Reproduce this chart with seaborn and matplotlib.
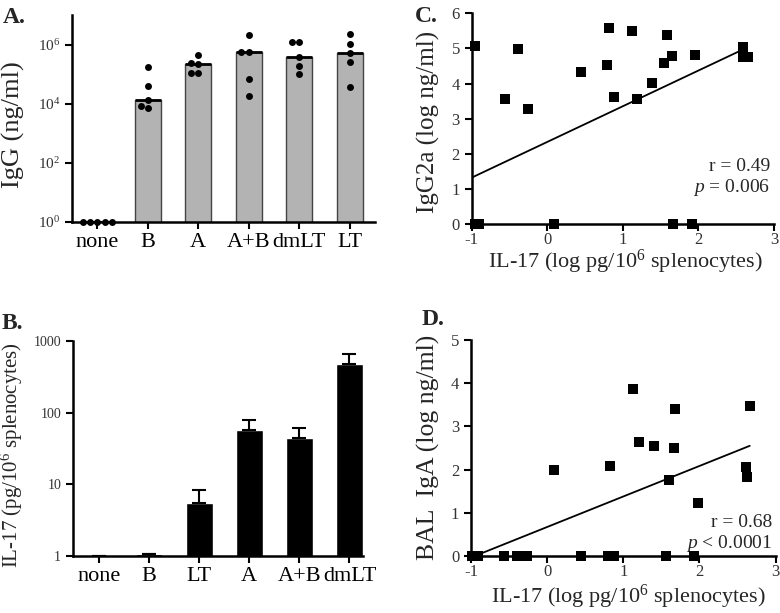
import numpy as np
import pandas as pd
import matplotlib
matplotlib.use('Agg')
import matplotlib.pyplot as plt
import seaborn as sns

# --- Panel A: serum IgG (ng/ml), 5 mice per group, bar = median ---
a_groups = ['none', 'B', 'A', 'A+B', 'dmLT', 'LT']
a_none = [1, 1, 1, 1, 1]
a_b = [1.74e5, 4.1e4, 1.3e4, 8.7e3, 7.1e3]
a_a = [2.45e5, 2.2e5, 4.4e5, 1.1e5, 1.1e5]
a_ab = [2.1e6, 5.5e5, 5.5e5, 6.9e4, 1.8e4]
a_dm = [1.26e6, 1.26e6, 3.9e5, 1.9e5, 9.8e4]
a_lt = [2.3e6, 1.07e6, 5.0e5, 2.5e5, 3.7e4]

# --- Panel B: IL-17 (pg/10^6 splenocytes), mean and upper error ---
b_groups = ['none', 'B', 'LT', 'A', 'A+B', 'dmLT']
b_mean = [1.0, 1.05, 5.5, 57, 44.6, 473]
b_upper = [1.0, 1.05, 8.3, 78.5, 62, 667]

# --- Panel C: IgG2a vs IL-17 (log scale values) ---
c_x = [-0.96, -0.39, -0.56, -0.26, 0.44, 0.79, 0.82, 0.88, 1.12, 1.19, 1.39,
       1.55, 1.59, 1.65, 1.96, 2.59, 2.59, 2.66,
       -0.96, -0.90, 0.09, 1.67, 1.92]
c_y = [5.07, 4.98, 3.56, 3.28, 4.32, 4.52, 5.58, 3.61, 5.50, 3.55, 4.01,
       4.59, 5.37, 4.77, 4.81, 5.03, 4.75, 4.75,
       0, 0, 0, 0, 0]
c_fit_x = [-1.0, 2.60]
c_fit_y = [1.32, 4.98]

# --- Panel D: BAL IgA vs IL-17 ---
d_x = [1.13, 1.68, 2.67, 1.20, 1.40, 1.66, 0.09, 0.82, 1.60, 2.61, 2.62, 1.98,
       -0.99, -0.95, -0.91, -0.57, -0.40, -0.26, 0.44, 0.80, 0.88, 1.56, 1.93]
d_y = [3.87, 3.41, 3.48, 2.63, 2.55, 2.50, 2.00, 2.08, 1.77, 2.05, 1.83, 1.23,
       0, 0, 0, 0, 0, 0, 0, 0, 0, 0, 0]
d_fit_x = [-0.95, 2.66]
d_fit_y = [0.0, 2.55]

sns.set_style('ticks')
plt.rcParams['font.family'] = ['Liberation Serif', 'DejaVu Serif']
plt.rcParams['mathtext.fontset'] = 'custom'
plt.rcParams['mathtext.rm'] = 'Liberation Serif'
plt.rcParams['mathtext.it'] = 'Liberation Serif:italic'
plt.rcParams['mathtext.bf'] = 'Liberation Serif:bold'
plt.rcParams['axes.unicode_minus'] = False
plt.rcParams['axes.linewidth'] = 1.8
plt.rcParams['axes.edgecolor'] = 'black'

fig = plt.figure(figsize=(7.8, 6.13), dpi=100)
axA = fig.add_axes([0.0923, 0.6378, 0.3885, 0.3377])
axB = fig.add_axes([0.0936, 0.0930, 0.3718, 0.3507])
axC = fig.add_axes([0.6047, 0.6346, 0.3876, 0.3437])
axD = fig.add_axes([0.6038, 0.0930, 0.3906, 0.3524])


def style(ax):
    sns.despine(ax=ax)
    ax.tick_params(direction='out', length=5, width=1.5, color='black',
                   labelcolor='#333333')
    ax.minorticks_off()


# Panel A
df_a = pd.DataFrame({
    'group': np.repeat(a_groups, 5),
    'igg': a_none + a_b + a_a + a_ab + a_dm + a_lt,
})
axA.set_yscale('log')
sns.barplot(data=df_a, x='group', y='igg', order=a_groups, estimator='median',
            errorbar=None, color='#b3b3b3', edgecolor='#444444', linewidth=1.0,
            width=0.52, saturation=1, ax=axA)
# thick median line on top of each bar
meds = df_a.groupby('group')['igg'].median().reindex(a_groups).values
pos = np.arange(len(a_groups))
axA.hlines(meds, pos - 0.26, pos + 0.26, color='black', linewidth=2, zorder=3)
sns.swarmplot(data=df_a, x='group', y='igg', order=a_groups, color='black',
              size=5, ax=axA, clip_on=False, zorder=4)
axA.set_ylim(1, 1e7)
axA.set_xlim(-0.5, 5.5)
axA.set_yticks([1, 1e2, 1e4, 1e6])
axA.set_xlabel('')
axA.set_ylabel('IgG (ng/ml)', fontsize=19)
axA.yaxis.set_label_coords(-0.155, 0.47)
style(axA)
axA.tick_params(axis='x', labelsize=16, labelcolor='black', pad=3)
axA.tick_params(axis='y', labelsize=11)

# Panel B
axB.set_yscale('log')
sns.barplot(x=b_groups, y=b_mean, color='black', errorbar=None, width=0.53,
            saturation=1, ax=axB)
err = [np.zeros(len(b_mean)), np.array(b_upper) - np.array(b_mean)]
axB.errorbar(range(len(b_groups)), b_mean, yerr=err, fmt='none',
             ecolor='black', elinewidth=1.5, capsize=5, capthick=1.5)
axB.set_ylim(1, 1000)
axB.set_xlim(-0.52, 5.27)
axB.set_yticks([1, 10, 100, 1000])
axB.set_yticklabels(['1', '10', '100', '1000'])
axB.set_ylabel('IL-17 (pg/10$^6$ splenocytes)', fontsize=15)
axB.yaxis.set_label_coords(-0.165, 0.47)
style(axB)
axB.tick_params(axis='x', labelsize=16, labelcolor='black', pad=3)
axB.tick_params(axis='y', labelsize=10)

# Panel C
sns.scatterplot(x=c_x, y=c_y, marker='s', s=55, color='black', linewidth=0,
                ax=axC, clip_on=False, zorder=4)
sns.lineplot(x=c_fit_x, y=c_fit_y, color='black', linewidth=1.3, ax=axC)
axC.set_xlim(-1, 3)
axC.set_ylim(0, 6)
axC.set_xticks([-1, 0, 1, 2, 3])
axC.set_yticks(range(0, 7))
axC.set_ylabel('IgG2a (log ng/ml)', fontsize=18)
axC.set_xlabel('IL-17 (log pg/10$^6$ splenocytes)', fontsize=16)
axC.yaxis.set_label_coords(-0.105, 0.484)
axC.xaxis.set_label_coords(0.507, -0.112)
axC.text(2.95, 1.51, 'r = 0.49', ha='right', va='baseline', fontsize=14)
axC.text(2.95, 0.91, '$\\it{p}$ = 0.006', ha='right', va='baseline', fontsize=14)
style(axC)
axC.tick_params(labelsize=12)
axC.tick_params(axis='x', pad=1)

# Panel D
sns.scatterplot(x=d_x, y=d_y, marker='s', s=55, color='black', linewidth=0,
                ax=axD, clip_on=False, zorder=4)
sns.lineplot(x=d_fit_x, y=d_fit_y, color='black', linewidth=1.3, ax=axD)
axD.set_xlim(-1, 3)
axD.set_ylim(0, 5)
axD.set_xticks([-1, 0, 1, 2, 3])
axD.set_yticks(range(0, 6))
axD.set_ylabel('BAL  IgA (log ng/ml)', fontsize=18.5)
axD.set_xlabel('IL-17 (log pg/10$^6$ splenocytes)', fontsize=16)
axD.yaxis.set_label_coords(-0.102, 0.505)
axD.xaxis.set_label_coords(0.515, -0.125)
axD.text(2.96, 0.67, 'r = 0.68', ha='right', va='baseline', fontsize=14)
axD.text(2.96, 0.185, '$\\it{p}$ < 0.0001', ha='right', va='baseline', fontsize=14)
style(axD)
axD.tick_params(labelsize=12)
axD.tick_params(axis='x', pad=1)

# panel letters
fig.text(3 / 780, 1 - 7 / 613, 'A.', fontsize=17, fontweight='bold', va='top')
fig.text(2 / 780, 1 - 313 / 613, 'B.', fontsize=17, fontweight='bold', va='top')
fig.text(415 / 780, 1 - 6 / 613, 'C.', fontsize=17, fontweight='bold', va='top')
fig.text(422 / 780, 1 - 309 / 613, 'D.', fontsize=17, fontweight='bold', va='top')

fig.savefig('out.png', dpi=100)
